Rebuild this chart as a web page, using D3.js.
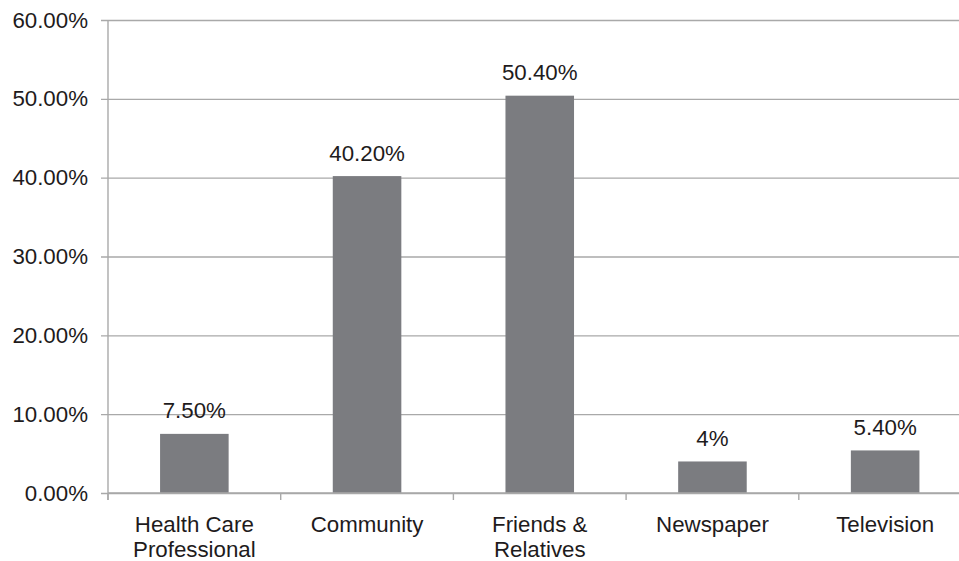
<!DOCTYPE html>
<html>
<head>
<meta charset="utf-8">
<script src="https://cdn.jsdelivr.net/npm/d3@7"></script>
<style>
  body { margin: 0; background: #fff; }
  svg { display: block; font-family: "Liberation Sans", Arial, sans-serif; }
</style>
</head>
<body>
<svg id="chart" width="959" height="561"></svg>
<script>
// data
const categories = ['Health Care Professional', 'Community', 'Friends & Relatives', 'Newspaper', 'Television'];
const categoryLines = [['Health Care', 'Professional'], ['Community'], ['Friends &', 'Relatives'], ['Newspaper'], ['Television']];
const values = [7.5, 40.2, 50.4, 4, 5.4];
const valueLabels = ['7.50%', '40.20%', '50.40%', '4%', '5.40%'];
const yTicks = [0, 10, 20, 30, 40, 50, 60];

const svg = d3.select('#chart');
const margin = { top: 20, left: 108, bottom: 68 };
const height = 561;
const plotRight = 971.5; // the plot runs past the picture's right edge

const x = d3.scaleBand()
  .domain(categories)
  .range([margin.left, plotRight])
  .paddingInner(0.603)
  .paddingOuter(0.3015);

const y = d3.scaleLinear()
  .domain([0, 60])
  .range([height - margin.bottom, margin.top]);

const gridColor = '#a9a9a9';
const textColor = '#1e1b1c';

// horizontal gridlines + y labels
const yAxis = svg.append('g')
  .attr('transform', 'translate(' + margin.left + ',0)')
  .call(d3.axisLeft(y).tickValues(yTicks).tickFormat(d => d.toFixed(2) + '%')
    .tickSize(-(plotRight - margin.left)).tickPadding(20));
yAxis.select('.domain').remove();
yAxis.selectAll('.tick line')
  .attr('x1', -7)
  .attr('stroke', gridColor).attr('stroke-width', 1.4);
yAxis.selectAll('.tick text')
  .attr('fill', textColor).attr('font-size', '22.3px')
  .attr('font-family', '"Liberation Sans", Arial, sans-serif');

// vertical axis line
svg.append('line')
  .attr('x1', margin.left).attr('x2', margin.left)
  .attr('y1', y(60)).attr('y2', y(0) + 7)
  .attr('stroke', gridColor).attr('stroke-width', 1.4);

// bars
svg.append('g').selectAll('rect')
  .data(values)
  .join('rect')
  .attr('x', (d, i) => x(categories[i]))
  .attr('y', d => y(d))
  .attr('width', x.bandwidth())
  .attr('height', d => y(0) - y(d))
  .attr('fill', '#7b7c80');

// value labels
svg.append('g').selectAll('text')
  .data(values)
  .join('text')
  .attr('x', (d, i) => x(categories[i]) + x.bandwidth() / 2)
  .attr('y', d => y(d) - 15.5)
  .attr('text-anchor', 'middle')
  .attr('fill', textColor)
  .attr('font-size', '22.3px')
  .text((d, i) => valueLabels[i]);

// x axis with category boundary ticks
const step = x.step();
const xAxis = svg.append('g')
  .attr('transform', 'translate(0,' + y(0) + ')');
xAxis.append('line')
  .attr('x1', margin.left).attr('x2', plotRight)
  .attr('stroke', gridColor).attr('stroke-width', 1.4);
xAxis.selectAll('line.tk')
  .data(d3.range(categories.length + 1))
  .join('line')
  .attr('class', 'tk')
  .attr('x1', i => margin.left + i * step)
  .attr('x2', i => margin.left + i * step)
  .attr('y1', 0).attr('y2', 7)
  .attr('stroke', gridColor).attr('stroke-width', 1.4);

// category labels
const catText = xAxis.selectAll('text.cat')
  .data(categories)
  .join('text')
  .attr('class', 'cat')
  .attr('text-anchor', 'middle')
  .attr('fill', textColor)
  .attr('font-size', '22.3px')
  .attr('transform', d => 'translate(' + (x(d) + x.bandwidth() / 2) + ',39)');
catText.selectAll('tspan')
  .data((d, i) => categoryLines[i])
  .join('tspan')
  .attr('x', 0)
  .attr('y', (d, j) => j * 24.5)
  .text(d => d);
</script>
</body>
</html>
